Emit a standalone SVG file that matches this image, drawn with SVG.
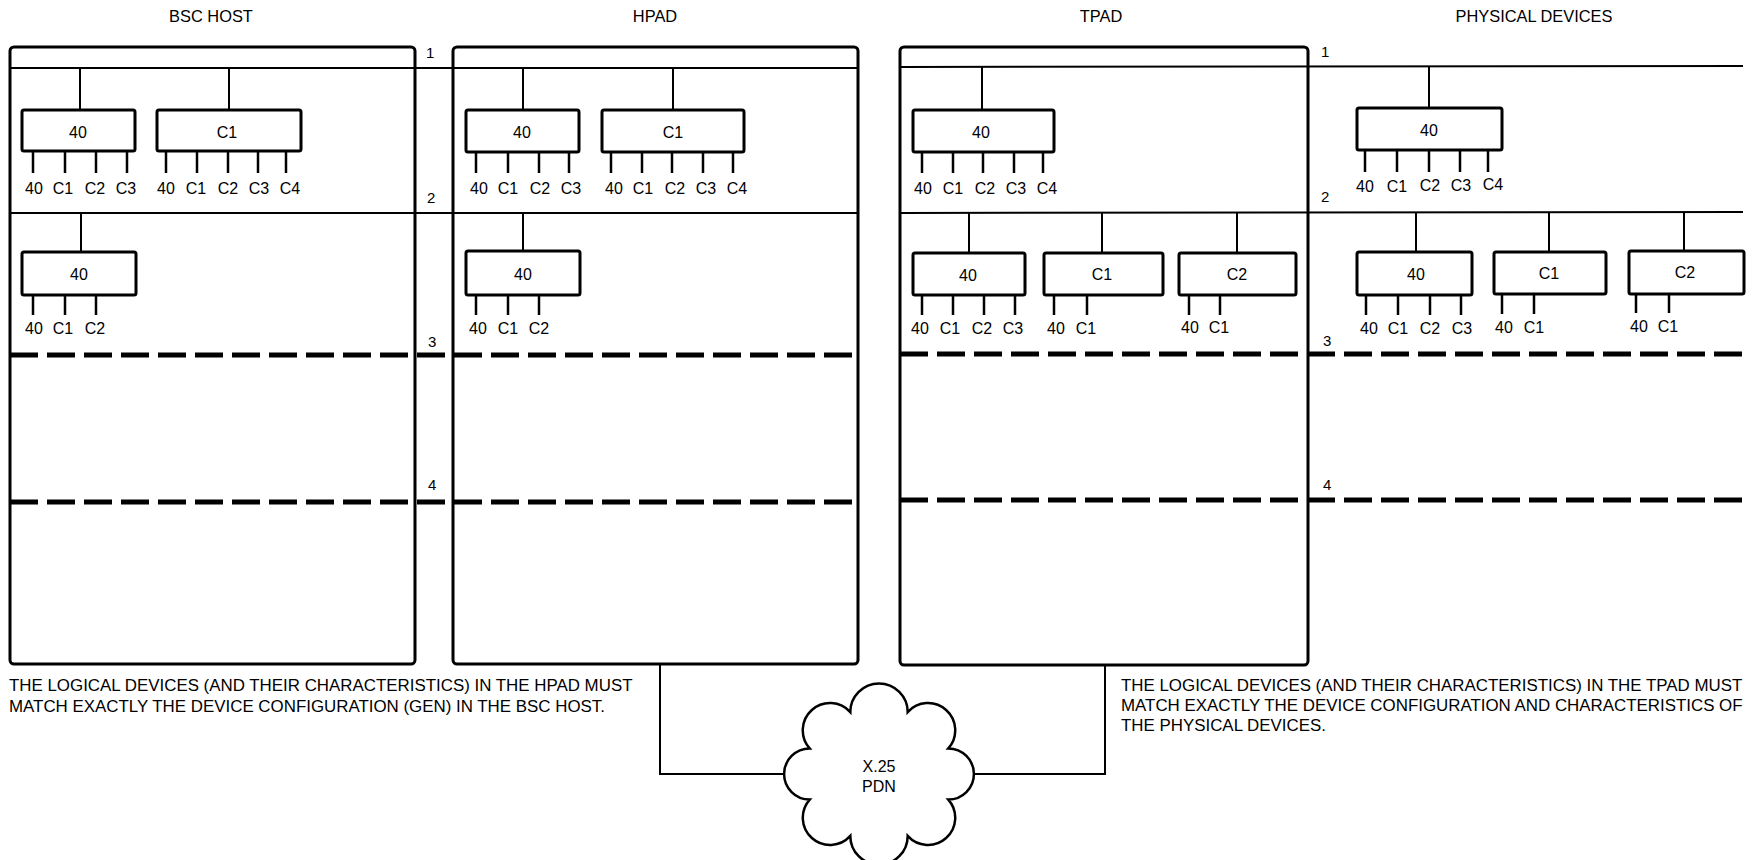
<svg xmlns="http://www.w3.org/2000/svg" width="1757" height="860" viewBox="0 0 1757 860">
<style>
  .bg{fill:#fff}
  .frame{fill:none;stroke:#000;stroke-width:3}
  .bus{fill:none;stroke:#000;stroke-width:2}
  .dash{fill:none;stroke:#000;stroke-width:5;stroke-dasharray:28 9}
  .box{fill:#fff;stroke:#000;stroke-width:3}
  .pin{stroke:#000;stroke-width:2.5}
  .wire{fill:none;stroke:#000;stroke-width:2}
  .cloud{fill:#fff;stroke:#000;stroke-width:2.5;stroke-linejoin:miter}
  text{font-family:"Liberation Sans",Arial,sans-serif;fill:#000}
  .title{font-size:16.4px;text-anchor:middle}
  .lbl{font-size:16px;text-anchor:middle}
  .num{font-size:15px}
  .note{font-size:16.9px}
</style>
<rect class="bg" x="0" y="0" width="1757" height="860"/>

<!-- titles -->
<g id="titles">
  <text class="title" x="211" y="22">BSC HOST</text>
  <text class="title" x="655" y="22">HPAD</text>
  <text class="title" x="1101" y="22">TPAD</text>
  <text class="title" x="1534" y="22">PHYSICAL DEVICES</text>
</g>

<!-- frames -->
<g id="bsc-host"><rect class="frame" x="10" y="47" width="405" height="617" rx="4"/></g>
<g id="hpad"><rect class="frame" x="453" y="47" width="405" height="617" rx="4"/></g>
<g id="tpad"><rect class="frame" x="900" y="47" width="408" height="618" rx="4"/></g>

<!-- level lines -->
<g id="levels">
  <line class="bus" x1="10" y1="68" x2="858" y2="68"/>
  <line class="bus" x1="900" y1="67" x2="1743" y2="66"/>
  <line class="bus" x1="10" y1="213" x2="858" y2="213"/>
  <line class="bus" x1="900" y1="213" x2="1743" y2="212"/>
  <line class="dash" x1="10" y1="355" x2="858" y2="355"/>
  <line class="dash" x1="900" y1="354" x2="1743" y2="354"/>
  <line class="dash" x1="10" y1="502" x2="858" y2="502"/>
  <line class="dash" x1="900" y1="500" x2="1743" y2="500"/>
  <text class="num" x="426" y="58">1</text>
  <text class="num" x="427" y="203">2</text>
  <text class="num" x="428" y="347">3</text>
  <text class="num" x="428" y="490">4</text>
  <text class="num" x="1321" y="57">1</text>
  <text class="num" x="1321" y="202">2</text>
  <text class="num" x="1323" y="346">3</text>
  <text class="num" x="1323" y="490">4</text>
</g>

<!-- connectors -->
<g id="connectors">
  <line class="wire" x1="80" y1="68" x2="80" y2="110"/>
  <line class="wire" x1="229" y1="68" x2="229" y2="110"/>
  <line class="wire" x1="81" y1="213" x2="81" y2="252"/>
  <line class="wire" x1="523" y1="68" x2="523" y2="110"/>
  <line class="wire" x1="673" y1="68" x2="673" y2="110"/>
  <line class="wire" x1="523" y1="213" x2="523" y2="251"/>
  <line class="wire" x1="982" y1="67" x2="982" y2="110"/>
  <line class="wire" x1="969" y1="213" x2="969" y2="253"/>
  <line class="wire" x1="1102" y1="213" x2="1102" y2="253"/>
  <line class="wire" x1="1237" y1="213" x2="1237" y2="253"/>
  <line class="wire" x1="1429" y1="66" x2="1429" y2="108"/>
  <line class="wire" x1="1416" y1="212" x2="1416" y2="252"/>
  <line class="wire" x1="1549" y1="212" x2="1549" y2="252"/>
  <line class="wire" x1="1684" y1="212" x2="1684" y2="251"/>
  <polyline class="wire" points="660,664 660,774 786,774"/>
  <polyline class="wire" points="1105,665 1105,774 972,774"/>
</g>

<!-- BSC HOST devices -->
<g id="bsc-dev-40">
  <rect class="box" x="22" y="110" width="113" height="41" rx="2"/>
  <text class="lbl" x="78" y="138">40</text>
  <line class="pin" x1="33" y1="151" x2="33" y2="173"/><line class="pin" x1="65" y1="151" x2="65" y2="173"/><line class="pin" x1="96" y1="151" x2="96" y2="173"/><line class="pin" x1="127" y1="151" x2="127" y2="173"/>
  <text class="lbl" x="34" y="194">40</text><text class="lbl" x="63" y="194">C1</text><text class="lbl" x="95" y="194">C2</text><text class="lbl" x="126" y="194">C3</text>
</g>
<g id="bsc-dev-c1">
  <rect class="box" x="157" y="110" width="144" height="41" rx="2"/>
  <text class="lbl" x="227" y="138">C1</text>
  <line class="pin" x1="166" y1="151" x2="166" y2="173"/><line class="pin" x1="197" y1="151" x2="197" y2="173"/><line class="pin" x1="228" y1="151" x2="228" y2="173"/><line class="pin" x1="258" y1="151" x2="258" y2="173"/><line class="pin" x1="286" y1="151" x2="286" y2="173"/>
  <text class="lbl" x="166" y="194">40</text><text class="lbl" x="196" y="194">C1</text><text class="lbl" x="228" y="194">C2</text><text class="lbl" x="259" y="194">C3</text><text class="lbl" x="290" y="194">C4</text>
</g>
<g id="bsc-dev-40b">
  <rect class="box" x="22" y="252" width="114" height="43" rx="2"/>
  <text class="lbl" x="79" y="280">40</text>
  <line class="pin" x1="33" y1="295" x2="33" y2="315"/><line class="pin" x1="65" y1="295" x2="65" y2="315"/><line class="pin" x1="96" y1="295" x2="96" y2="315"/>
  <text class="lbl" x="34" y="334">40</text><text class="lbl" x="63" y="334">C1</text><text class="lbl" x="95" y="334">C2</text>
</g>

<!-- HPAD devices -->
<g id="hpad-dev-40">
  <rect class="box" x="466" y="110" width="113" height="42" rx="2"/>
  <text class="lbl" x="522" y="138">40</text>
  <line class="pin" x1="476" y1="152" x2="476" y2="173"/><line class="pin" x1="508" y1="152" x2="508" y2="173"/><line class="pin" x1="539" y1="152" x2="539" y2="173"/><line class="pin" x1="569" y1="152" x2="569" y2="173"/>
  <text class="lbl" x="479" y="194">40</text><text class="lbl" x="508" y="194">C1</text><text class="lbl" x="540" y="194">C2</text><text class="lbl" x="571" y="194">C3</text>
</g>
<g id="hpad-dev-c1">
  <rect class="box" x="602" y="110" width="142" height="42" rx="2"/>
  <text class="lbl" x="673" y="138">C1</text>
  <line class="pin" x1="611" y1="152" x2="611" y2="173"/><line class="pin" x1="642" y1="152" x2="642" y2="173"/><line class="pin" x1="672" y1="152" x2="672" y2="173"/><line class="pin" x1="703" y1="152" x2="703" y2="173"/><line class="pin" x1="733" y1="152" x2="733" y2="173"/>
  <text class="lbl" x="614" y="194">40</text><text class="lbl" x="643" y="194">C1</text><text class="lbl" x="675" y="194">C2</text><text class="lbl" x="706" y="194">C3</text><text class="lbl" x="737" y="194">C4</text>
</g>
<g id="hpad-dev-40b">
  <rect class="box" x="466" y="251" width="114" height="44" rx="2"/>
  <text class="lbl" x="523" y="280">40</text>
  <line class="pin" x1="476" y1="295" x2="476" y2="315"/><line class="pin" x1="508" y1="295" x2="508" y2="315"/><line class="pin" x1="539" y1="295" x2="539" y2="315"/>
  <text class="lbl" x="478" y="334">40</text><text class="lbl" x="508" y="334">C1</text><text class="lbl" x="539" y="334">C2</text>
</g>

<!-- TPAD devices -->
<g id="tpad-dev-40">
  <rect class="box" x="913" y="110" width="141" height="42" rx="2"/>
  <text class="lbl" x="981" y="138">40</text>
  <line class="pin" x1="922" y1="152" x2="922" y2="173"/><line class="pin" x1="953" y1="152" x2="953" y2="173"/><line class="pin" x1="983" y1="152" x2="983" y2="173"/><line class="pin" x1="1014" y1="152" x2="1014" y2="173"/><line class="pin" x1="1043" y1="152" x2="1043" y2="173"/>
  <text class="lbl" x="923" y="194">40</text><text class="lbl" x="953" y="194">C1</text><text class="lbl" x="985" y="194">C2</text><text class="lbl" x="1016" y="194">C3</text><text class="lbl" x="1047" y="194">C4</text>
</g>
<g id="tpad-dev-40b">
  <rect class="box" x="913" y="253" width="112" height="42" rx="2"/>
  <text class="lbl" x="968" y="281">40</text>
  <line class="pin" x1="922" y1="295" x2="922" y2="315"/><line class="pin" x1="953" y1="295" x2="953" y2="315"/><line class="pin" x1="984" y1="295" x2="984" y2="315"/><line class="pin" x1="1015" y1="295" x2="1015" y2="315"/>
  <text class="lbl" x="920" y="334">40</text><text class="lbl" x="950" y="334">C1</text><text class="lbl" x="982" y="334">C2</text><text class="lbl" x="1013" y="334">C3</text>
</g>
<g id="tpad-dev-c1">
  <rect class="box" x="1044" y="253" width="119" height="42" rx="2"/>
  <text class="lbl" x="1102" y="280">C1</text>
  <line class="pin" x1="1054" y1="295" x2="1054" y2="315"/><line class="pin" x1="1087" y1="295" x2="1087" y2="315"/>
  <text class="lbl" x="1056" y="334">40</text><text class="lbl" x="1086" y="334">C1</text>
</g>
<g id="tpad-dev-c2">
  <rect class="box" x="1179" y="253" width="117" height="42" rx="2"/>
  <text class="lbl" x="1237" y="280">C2</text>
  <line class="pin" x1="1189" y1="295" x2="1189" y2="315"/><line class="pin" x1="1220" y1="295" x2="1220" y2="315"/>
  <text class="lbl" x="1190" y="333">40</text><text class="lbl" x="1219" y="333">C1</text>
</g>

<!-- Physical devices -->
<g id="phys-dev-40">
  <rect class="box" x="1357" y="108" width="145" height="42" rx="2"/>
  <text class="lbl" x="1429" y="136">40</text>
  <line class="pin" x1="1365" y1="150" x2="1365" y2="172"/><line class="pin" x1="1397" y1="150" x2="1397" y2="172"/><line class="pin" x1="1429" y1="150" x2="1429" y2="172"/><line class="pin" x1="1460" y1="150" x2="1460" y2="172"/><line class="pin" x1="1488" y1="150" x2="1488" y2="172"/>
  <text class="lbl" x="1365" y="192">40</text><text class="lbl" x="1397" y="192">C1</text><text class="lbl" x="1430" y="191">C2</text><text class="lbl" x="1461" y="191">C3</text><text class="lbl" x="1493" y="190">C4</text>
</g>
<g id="phys-dev-40b">
  <rect class="box" x="1357" y="252" width="115" height="43" rx="2"/>
  <text class="lbl" x="1416" y="280">40</text>
  <line class="pin" x1="1366" y1="295" x2="1366" y2="315"/><line class="pin" x1="1398" y1="295" x2="1398" y2="315"/><line class="pin" x1="1430" y1="295" x2="1430" y2="315"/><line class="pin" x1="1461" y1="295" x2="1461" y2="315"/>
  <text class="lbl" x="1369" y="334">40</text><text class="lbl" x="1398" y="334">C1</text><text class="lbl" x="1430" y="334">C2</text><text class="lbl" x="1462" y="334">C3</text>
</g>
<g id="phys-dev-c1">
  <rect class="box" x="1494" y="252" width="112" height="42" rx="2"/>
  <text class="lbl" x="1549" y="279">C1</text>
  <line class="pin" x1="1502" y1="294" x2="1502" y2="314"/><line class="pin" x1="1534" y1="294" x2="1534" y2="314"/>
  <text class="lbl" x="1504" y="333">40</text><text class="lbl" x="1534" y="333">C1</text>
</g>
<g id="phys-dev-c2">
  <rect class="box" x="1629" y="251" width="115" height="43" rx="2"/>
  <text class="lbl" x="1685" y="278">C2</text>
  <line class="pin" x1="1636" y1="294" x2="1636" y2="313"/><line class="pin" x1="1669" y1="294" x2="1669" y2="313"/>
  <text class="lbl" x="1639" y="332">40</text><text class="lbl" x="1668" y="332">C1</text>
</g>

<!-- X.25 PDN cloud -->
<g id="x25-pdn">
  <path class="cloud" d="M948.3,748.4 A1,1 0 0 1 948.3,799.6 A1,1 0 0 1 907.7,835.9 A1,1 0 0 1 850.3,835.9 A1,1 0 0 1 809.7,799.6 A1,1 0 0 1 809.7,748.4 A1,1 0 0 1 850.3,712.1 A1,1 0 0 1 907.7,712.1 A1,1 0 0 1 948.3,748.4 Z"/>
  <text class="lbl" x="879" y="772">X.25</text>
  <text class="lbl" x="879" y="792">PDN</text>
</g>

<!-- notes -->
<g id="notes">
  <text class="note" x="9" y="691">THE LOGICAL DEVICES (AND THEIR CHARACTERISTICS) IN THE HPAD MUST</text>
  <text class="note" x="9" y="712">MATCH EXACTLY THE DEVICE CONFIGURATION (GEN) IN THE BSC HOST.</text>
  <text class="note" x="1121" y="691">THE LOGICAL DEVICES (AND THEIR CHARACTERISTICS) IN THE TPAD MUST</text>
  <text class="note" x="1121" y="711">MATCH EXACTLY THE DEVICE CONFIGURATION AND CHARACTERISTICS OF</text>
  <text class="note" x="1121" y="731">THE PHYSICAL DEVICES.</text>
</g>
</svg>
